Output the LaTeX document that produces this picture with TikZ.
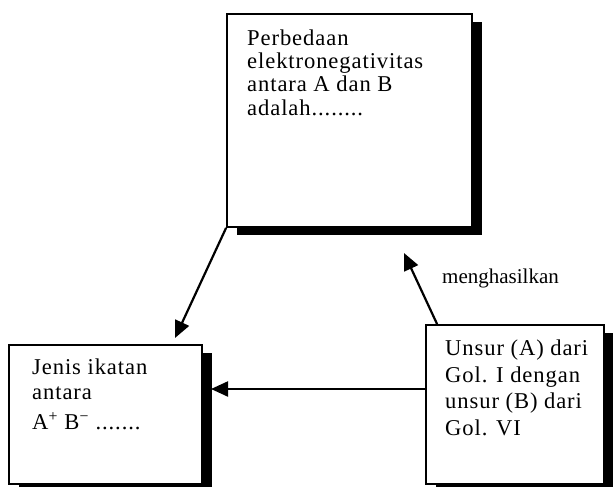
\documentclass[tikz,border=0pt]{standalone}
\usepackage{fontspec}
\setmainfont{Liberation Serif}
\newfontfamily\spacedfont{Liberation Serif}[LetterSpace=4]
\usetikzlibrary{positioning,arrows.meta,shadows}

\begin{document}
\begin{tikzpicture}[x=1pt, y=-1pt,
  box/.style={draw, line width=1.8pt, fill=white, inner sep=0pt,
    drop shadow={shadow xshift=10pt, shadow yshift=-8pt, fill=black, opacity=1}},
  txt/.style={anchor=north west, inner sep=0pt, align=left},
  arr/.style={-{Triangle[length=17pt, width=15pt]}, line width=2.2pt},
]
\useasboundingbox (0,0) rectangle (613,487);

\node[box, minimum width=245pt, minimum height=213pt] (diff)  at (349.5,120.5) {};
\node[box, minimum width=193pt, minimum height=139pt] (jenis) at (105.5,414.5) {};
\node[box, minimum width=178pt, minimum height=159pt] (unsur) at (515,404.5) {};

\node[txt, font={\spacedfont\fontsize{22.6}{23.3}\selectfont}] (difftext) at (247,29.5)
  {Perbedaan\\elektronegativitas\\antara A dan B\\adalah........};
\node[txt, font={\spacedfont\fontsize{22.6}{25.5}\selectfont}] (jenistext) at (32,358.5)
  {Jenis ikatan\\antara\\[4pt]A\textsuperscript{+} B\textsuperscript{−} .......};
\node[txt, font={\spacedfont\fontsize{22.6}{26.7}\selectfont}] (unsurtext) at (445,339.5)
  {Unsur (A) dari\\Gol. I dengan\\unsur (B) dari\\Gol. VI};

\coordinate (tipA) at (175,338);
\coordinate (tipB) at (211,389);
\coordinate (tipC) at (404,253);

\draw[arr] (diff.south west) -- (tipA);
\draw[arr] (unsur.west |- tipB) -- (tipB);
\draw[arr] ([xshift=12pt]unsur.north west) -- (tipC);

\node[anchor=base west, inner sep=0pt, font={\fontsize{21}{23}\selectfont}] (hasil) at (442,283) {menghasilkan};
\end{tikzpicture}
\end{document}
